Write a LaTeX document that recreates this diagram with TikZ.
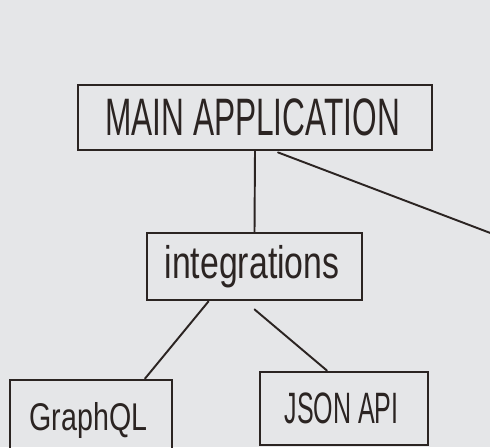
\documentclass[tikz,border=0pt]{standalone}
\usepackage{fontspec}
\setmainfont{Liberation Sans}
\usepackage{graphicx}
\usetikzlibrary{positioning,calc}
\definecolor{board}{RGB}{229,230,232}
\definecolor{marker}{RGB}{43,36,34}

\begin{document}
\begin{tikzpicture}[
  x=0.02cm, y=-0.02cm,
  box/.style={
    draw=marker, line width=1.6pt, inner sep=0pt, text=marker, align=center
  },
  link/.style={draw=marker, line width=1.1pt, line cap=round}
]

% Whiteboard
\fill[board] (0,0) rectangle (490,447);
\useasboundingbox (0,0) rectangle (490,447);

% Top: main application
\node[box, minimum width=7.08cm, minimum height=1.3cm] (main) at (255,117.5) {
  {\fontsize{30}{30}\selectfont\scalebox{0.6}[1]{MAIN APPLICATION}}
};

% Middle: integrations
\node[box, minimum width=4.3cm, minimum height=1.34cm] (integ) at (254.5,266.5) {
  {\fontsize{26}{26}\selectfont\scalebox{0.74}[1]{integrations}}
};

% Bottom: GraphQL
\node[box, minimum width=3.24cm, minimum height=1.6cm] (graphql) at (91,420) {
  {\fontsize{22}{22}\selectfont\scalebox{0.74}[1]{GraphQL}}
};

% Bottom: JSON API
\node[box, minimum width=3.36cm, minimum height=1.46cm] (json) at (344,408.5) {
  {\fontsize{25}{25}\selectfont\scalebox{0.57}[1]{JSON API}}
};

% Off the board to the right
\coordinate (offside) at (493,234);

% Connecting lines
\draw[link] (main.south) -- (integ.north);
\draw[link] ([xshift=0.46cm,yshift=-0.02cm]main.south) -- (offside);
\draw[link] ([xshift=-0.92cm]integ.south) -- ([xshift=1.08cm]graphql.north);
\draw[link] ([yshift=-0.16cm]integ.south) -- ([xshift=-0.34cm]json.north);

\end{tikzpicture}
\end{document}
